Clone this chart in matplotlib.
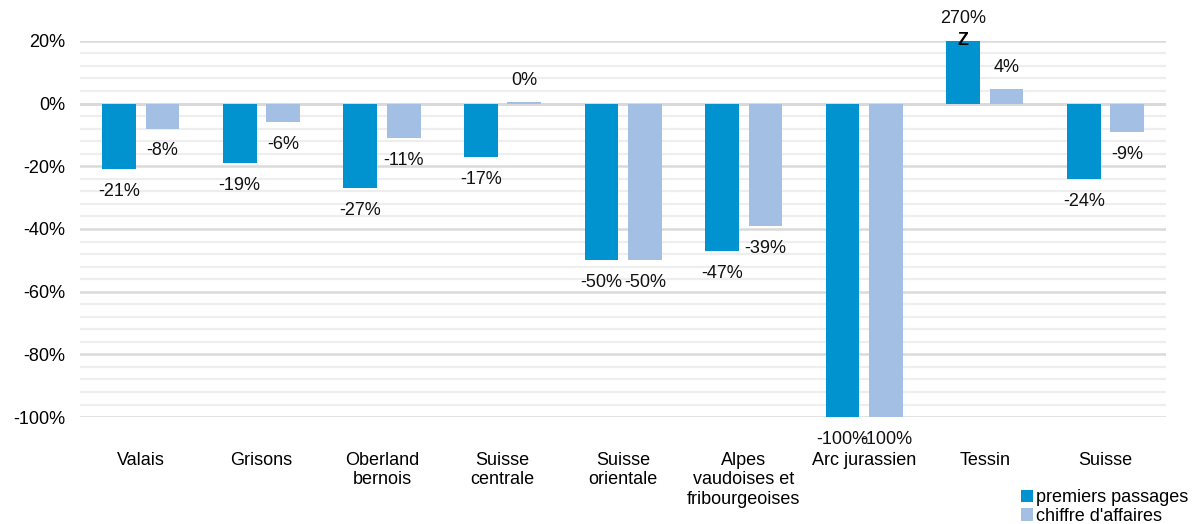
import numpy as np
import matplotlib
matplotlib.use("Agg")
import matplotlib.pyplot as plt
from matplotlib.ticker import MultipleLocator, FuncFormatter

plt.rcParams['font.family'] = ['Liberation Sans', 'DejaVu Sans']

regions = ["Valais", "Grisons", "Oberland\nbernois", "Suisse\ncentrale", "Suisse\norientale",
           "Alpes\nvaudoises et\nfribourgeoises", "Arc jurassien", "Tessin", "Suisse"]
premiers = [-21, -19, -27, -17, -50, -47, -100, 270, -24]
chiffre = [-8, -6, -11, 0.4, -50, -39, -100, 4.5, -9]
premiers_lbl = ["-21%", "-19%", "-27%", "-17%", "-50%", "-47%", "-100%", "270%", "-24%"]
chiffre_lbl = ["-8%", "-6%", "-11%", "0%", "-50%", "-39%", "-100%", "4%", "-9%"]

col_dark = '#0093d0'
col_light = '#a3bfe3'
ymin, ymax = -100, 20
fs = 13

fig = plt.figure(figsize=(11.92, 5.24), dpi=100)
ax = fig.add_axes([0.0675, 0.204, 0.9105, 0.718])

x = np.arange(len(regions))
w = 0.28
off = 0.18
dark_vals = np.clip(premiers, ymin, ymax)
light_vals = np.clip(chiffre, ymin, ymax)
ax.bar(x - off, dark_vals, w, color=col_dark, zorder=3, label="premiers passages")
ax.bar(x + off, light_vals, w, color=col_light, zorder=3, label="chiffre d'affaires")

def put_labels(xs, vals, labels):
    for xi, v, t in zip(xs, vals, labels):
        dy = 16 if v >= 0 else -16
        ax.annotate(t, (xi, v), xytext=(0, dy), textcoords='offset points',
                    ha='center', va='center', fontsize=fs, color='#111111', zorder=5,
                    annotation_clip=False)

put_labels(x - off, dark_vals, premiers_lbl)
put_labels(x + off, light_vals, chiffre_lbl)

# clipped bar marker
for xi, v in zip(x - off, premiers):
    if v > ymax:
        ax.text(xi, ymax, "Z", ha='center', va='center', fontsize=fs,
                fontweight='bold', color='black', zorder=5)

ax.set_xlim(-0.5, len(regions) - 0.5)
ax.set_ylim(ymin, ymax)
ax.yaxis.set_major_locator(MultipleLocator(20))
ax.yaxis.set_minor_locator(MultipleLocator(4))
ax.yaxis.set_major_formatter(FuncFormatter(lambda v, p: f"{v:.0f}%"))
ax.grid(axis='y', which='minor', color='#eeeeee', linewidth=1.6, zorder=0)
ax.grid(axis='y', which='major', color='#dadada', linewidth=1.8, zorder=0)
ax.axhline(0, color='#d0d0d0', linewidth=1.8, zorder=1)

ax.set_xticks(x)
ax.set_xticklabels(regions, fontsize=fs, linespacing=1.2)
ax.tick_params(axis='x', length=0, pad=25)
ax.tick_params(axis='y', which='both', length=0, labelsize=fs, pad=11)
for s in ax.spines.values():
    s.set_visible(False)

fig.legend(loc='upper left', bbox_to_anchor=(1012 / 1192, 1 - 480 / 524), frameon=False,
           fontsize=fs, handlelength=0.65, handleheight=0.65, handletextpad=0.2,
           labelspacing=0.1, borderpad=0)

fig.savefig("out.png", dpi=100)
